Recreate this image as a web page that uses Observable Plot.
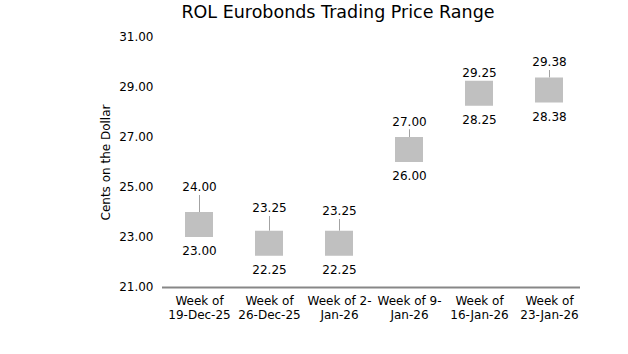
<!DOCTYPE html>
<html><head><meta charset="utf-8">
<script src="https://cdn.jsdelivr.net/npm/d3@7"></script>
<script src="https://cdn.jsdelivr.net/npm/@observablehq/plot@0.6"></script>
<style>
body{margin:0;background:#fff;font-family:"DejaVu Sans",Verdana,sans-serif}
#title{width:628px;box-sizing:border-box;padding-left:48px;text-align:center;font-size:17.5px;line-height:24px;height:24px;color:#000;white-space:nowrap}
</style></head><body>
<div id="title">ROL Eurobonds Trading Price Range</div>
<div id="chart"></div>
<script>
const categories = ["Week of 19-Dec-25","Week of 26-Dec-25","Week of 2-Jan-26","Week of 9-Jan-26","Week of 16-Jan-26","Week of 23-Jan-26"];
const tickLabels = ["Week of\n19-Dec-25","Week of\n26-Dec-25","Week of 2-\nJan-26","Week of 9-\nJan-26","Week of\n16-Jan-26","Week of\n23-Jan-26"];
const lows = [23.00, 22.25, 22.25, 26.00, 28.25, 28.38];
const highs = [24.00, 23.25, 23.25, 27.00, 29.25, 29.38];
const wickTops = [24.68, 23.84, 23.72, 27.31, 29.25, 29.68];
const yTicks = [21, 23, 25, 27, 29, 31];

const rows = categories.map((c, i) => ({week: c, low: lows[i], high: highs[i], wick: wickTops[i]}));
const f2 = d3.format(".2f");

const chart = Plot.plot({
  width: 628,
  height: 330,
  marginTop: 13,
  marginBottom: 67,
  marginLeft: 162,
  marginRight: 48,
  style: {fontFamily: "DejaVu Sans, Verdana, sans-serif", fontSize: "12px", color: "#000", background: "#fff"},
  x: {domain: categories, range: [162.8, 585.2], paddingInner: 0.6, paddingOuter: 0.3},
  y: {domain: [21, 31]},
  marks: [
    Plot.ruleX(rows, {x: "week", y1: "high", y2: "wick", stroke: "#a3a3a3", strokeWidth: 1}),
    Plot.barY(rows, {x: "week", y1: "low", y2: "high", fill: "#c0c0c0"}),
    Plot.text(rows, {x: "week", y: "wick", text: d => f2(d.high), dy: -8, fill: "#000"}),
    Plot.text(rows, {x: "week", y: "low", text: d => f2(d.low), dy: 14, fill: "#000"}),
    Plot.ruleY([21], {stroke: "#878787", strokeWidth: 2}),
    Plot.axisY({ticks: yTicks, tickSize: 0, tickPadding: 9, tickFormat: f2, label: "Cents on the Dollar", labelAnchor: "center", labelOffset: 61, labelArrow: "none"}),
    Plot.axisX({tickSize: 0, tickPadding: 8, label: null, lineHeight: 1.15, tickFormat: d => tickLabels[categories.indexOf(d)]})
  ]
});
document.getElementById("chart").appendChild(chart);
</script>
</body></html>
